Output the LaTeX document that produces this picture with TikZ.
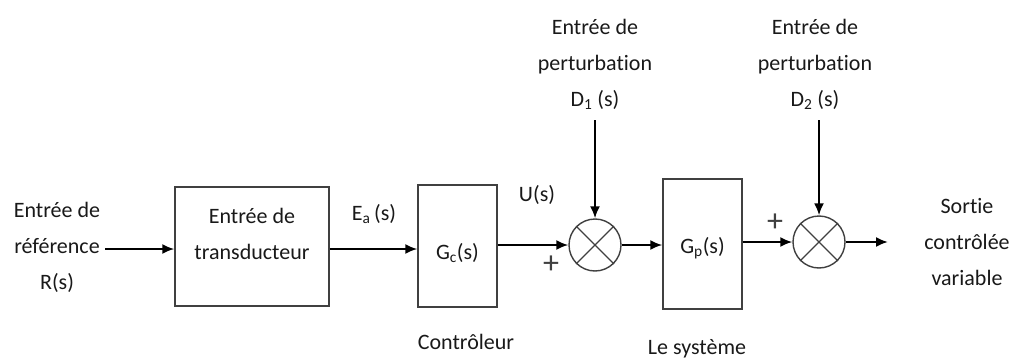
\documentclass[tikz,border=0pt]{standalone}
\usepackage{fontspec}
\setmainfont{Carlito}[Ligatures=NoCommon]
\usetikzlibrary{arrows.meta}
\begin{document}
\begin{tikzpicture}[x=1pt,y=-1pt,
  txt/.style={font=\fontsize{22}{36}\selectfont, align=center, inner sep=0pt, text=black!90},
  blk/.style={draw=black!75, line width=1.4pt, inner sep=0pt},
  sum/.style={draw=black!75, line width=1.4pt, circle, minimum size=52pt, inner sep=0pt},
  arr/.style={line width=2pt, -{Latex[length=12pt,width=10pt]}},
  plus/.style={font=\fontsize{32}{32}\selectfont, inner sep=0pt, text=black!75}]
\useasboundingbox (0,0) rectangle (1009,361);
% left input text
\node[txt] (lref) at (57,247) {Entrée de\\référence\\R(s)};
\coordinate (in) at (105,249);
% transducer block
\node[blk, minimum width=154pt, minimum height=119pt] (b1) at (252,246.5) {};
\node[txt] (t1) at (252,234) {Entrée de\\transducteur};
% controller block
\node[blk, minimum width=79pt, minimum height=122pt] (b2) at (457.5,246) {};
\node[txt] (t2) at (457.5,253) {G\textsubscript{c}(s)};
\node[txt] (ctl) at (466,342) {Contrôleur};
\node[txt] (ea) at (374,214) {E\textsubscript{a}\,(s)};
% summing junction 1
\node[sum] (s1) at (595,245) {};
\draw[black!75, line width=1.2pt] (s1.45) -- (s1.225) (s1.135) -- (s1.315);
\node[txt] (us) at (537,195) {U(s)};
\node[plus] (p1) at (551,265) {+};
\node[txt] (d1) at (595,64) {Entrée de\\perturbat\kern0pt ion\\D\textsubscript{1} (s)};
\coordinate (d1s) at (595,120);
% plant block
\node[blk, minimum width=79pt, minimum height=130pt] (b3) at (702.5,244) {};
\node[txt] (t3) at (702.5,248) {G\textsubscript{p}(s)};
\node[txt] (sys) at (697,349) {Le système};
% summing junction 2
\node[sum] (s2) at (819,242) {};
\draw[black!75, line width=1.2pt] (s2.45) -- (s2.225) (s2.135) -- (s2.315);
\node[plus] (p2) at (775,223) {+};
\node[txt] (d2) at (815,64) {Entrée de\\perturbat\kern0pt ion\\D\textsubscript{2} (s)};
\coordinate (d2s) at (819,120);
\coordinate (outc) at (888,242);
% right output text
\node[txt] (out) at (967,242) {Sortie\\contrôlée\\variable};
% connectors
\draw[arr] (in) -- (in -| b1.west);
\draw[arr] (b1.east |- 0,249) -- (b2.west |- 0,249);
\draw[arr] (b2.east |- s1.west) -- (s1.west);
\draw[arr] (d1s) -- (s1.north);
\draw[arr] (s1.east) -- (b3.west |- s1.east);
\draw[arr] (b3.east |- s2.west) -- (s2.west);
\draw[arr] (d2s) -- (s2.north);
\draw[arr] (s2.east) -- (outc);
\end{tikzpicture}
\end{document}
